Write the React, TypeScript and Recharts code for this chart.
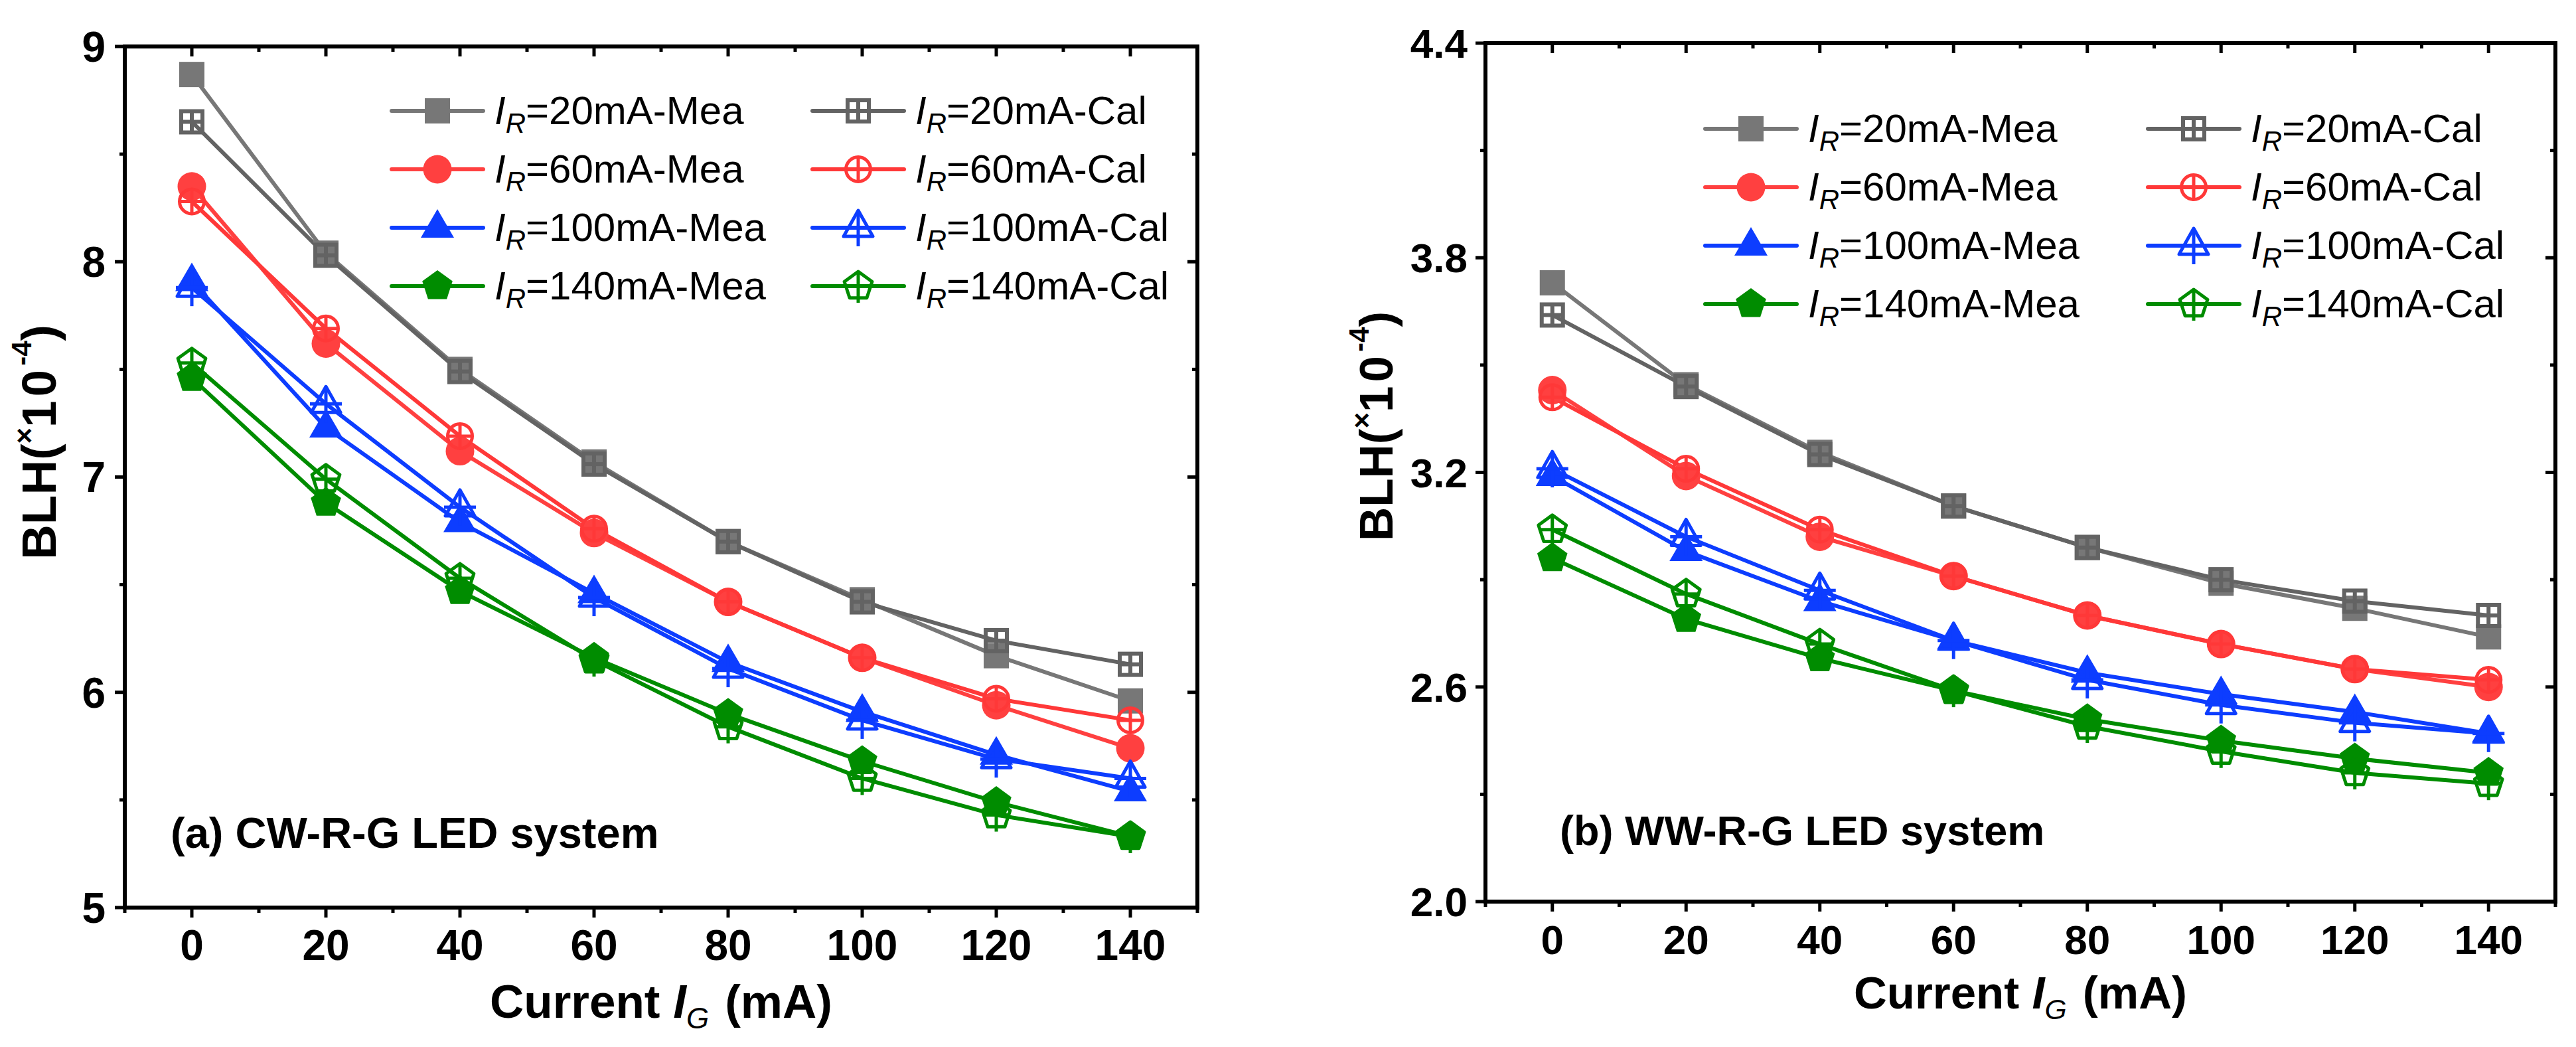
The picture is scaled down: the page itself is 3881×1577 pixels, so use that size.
import React from 'react';
import { LineChart, Line, XAxis, YAxis, Legend } from 'recharts';

// x values (current I_G, mA)
const CURRENTS = [0, 20, 40, 60, 80, 100, 120, 140];

// (a) CW-R-G LED system
const CW_MEA_20 = [8.87, 8.04, 7.5, 7.07, 6.7, 6.43, 6.17, 5.96];
const CW_CAL_20 = [8.65, 8.03, 7.49, 7.06, 6.7, 6.42, 6.24, 6.13];
const CW_MEA_60 = [8.35, 7.62, 7.12, 6.74, 6.42, 6.16, 5.94, 5.74];
const CW_CAL_60 = [8.28, 7.69, 7.19, 6.76, 6.42, 6.16, 5.97, 5.87];
const CW_MEA_100 = [7.91, 7.23, 6.79, 6.46, 6.14, 5.91, 5.71, 5.54];
const CW_CAL_100 = [7.88, 7.34, 6.86, 6.44, 6.11, 5.87, 5.69, 5.6];
const CW_MEA_140 = [7.46, 6.88, 6.47, 6.16, 5.9, 5.68, 5.49, 5.33];
const CW_CAL_140 = [7.53, 6.99, 6.53, 6.15, 5.84, 5.6, 5.43, 5.33];

// (b) WW-R-G LED system
const WW_MEA_20 = [3.73, 3.445, 3.256, 3.106, 2.99, 2.89, 2.82, 2.74];
const WW_CAL_20 = [3.64, 3.44, 3.25, 3.106, 2.99, 2.9, 2.84, 2.8];
const WW_MEA_60 = [3.43, 3.19, 3.02, 2.91, 2.8, 2.72, 2.65, 2.6];
const WW_CAL_60 = [3.41, 3.21, 3.04, 2.91, 2.8, 2.72, 2.65, 2.62];
const WW_MEA_100 = [3.19, 2.98, 2.84, 2.73, 2.64, 2.58, 2.53, 2.47];
const WW_CAL_100 = [3.21, 3.02, 2.87, 2.73, 2.62, 2.55, 2.5, 2.47];
const WW_MEA_140 = [2.96, 2.79, 2.68, 2.59, 2.51, 2.45, 2.4, 2.36];
const WW_CAL_140 = [3.04, 2.86, 2.72, 2.59, 2.49, 2.42, 2.36, 2.33];

// ticks
const X_MAJOR = [0, 20, 40, 60, 80, 100, 120, 140];
const X_ALL = [-10, 0, 10, 20, 30, 40, 50, 60, 70, 80, 90, 100, 110, 120, 130, 140, 150];
const CW_Y_MAJOR = [5, 6, 7, 8, 9];
const CW_Y_ALL = [5, 5.5, 6, 6.5, 7, 7.5, 8, 8.5, 9];
const WW_Y_MAJOR = [2.0, 2.6, 3.2, 3.8, 4.4];
const WW_Y_ALL = [2.0, 2.3, 2.6, 2.9, 3.2, 3.5, 3.8, 4.1, 4.4];

const SERIES = [
  { key: 'm20', label: '20mA-Mea', color: '#777777', shape: 'square', filled: true },
  { key: 'c20', label: '20mA-Cal', color: '#636363', shape: 'square', filled: false },
  { key: 'm60', label: '60mA-Mea', color: '#ff4040', shape: 'circle', filled: true },
  { key: 'c60', label: '60mA-Cal', color: '#ff3838', shape: 'circle', filled: false },
  { key: 'm100', label: '100mA-Mea', color: '#0d3dff', shape: 'triangle', filled: true },
  { key: 'c100', label: '100mA-Cal', color: '#0d3dff', shape: 'triangle', filled: false },
  { key: 'm140', label: '140mA-Mea', color: '#008c00', shape: 'pentagon', filled: true },
  { key: 'c140', label: '140mA-Cal', color: '#008c00', shape: 'pentagon', filled: false },
];

const buildRows = (cols: number[][]) =>
  CURRENTS.map((x, i) => {
    const row: any = { x };
    SERIES.forEach((s, j) => (row[s.key] = cols[j][i]));
    return row;
  });

const CW_DATA = buildRows([CW_MEA_20, CW_CAL_20, CW_MEA_60, CW_CAL_60, CW_MEA_100, CW_CAL_100, CW_MEA_140, CW_CAL_140]);
const WW_DATA = buildRows([WW_MEA_20, WW_CAL_20, WW_MEA_60, WW_CAL_60, WW_MEA_100, WW_CAL_100, WW_MEA_140, WW_CAL_140]);

const FONT = "'Liberation Sans', Arial, sans-serif";

const pentagon = (r: number) =>
  [0, 1, 2, 3, 4]
    .map((k) => {
      const a = -Math.PI / 2 + (k * 2 * Math.PI) / 5;
      return `${(r * Math.cos(a)).toFixed(1)},${(r * Math.sin(a)).toFixed(1)}`;
    })
    .join(' ');

const Marker = ({ cx, cy, shape, filled, color }: any) => {
  if (cx == null || cy == null) return null;
  const sw = 6;
  let body: any = null;
  if (shape === 'square') {
    body = filled ? (
      <rect x={-19} y={-19} width={38} height={38} fill={color} />
    ) : (
      <g stroke={color} strokeWidth={sw} fill="none">
        <rect x={-16} y={-16} width={32} height={32} />
        <line x1={0} y1={-16} x2={0} y2={16} />
        <line x1={-16} y1={0} x2={16} y2={0} />
      </g>
    );
  } else if (shape === 'circle') {
    body = filled ? (
      <circle r={21.5} fill={color} />
    ) : (
      <g stroke={color} strokeWidth={sw - 1} fill="none">
        <circle r={18.5} />
        <line x1={0} y1={-18.5} x2={0} y2={18.5} />
        <line x1={-18.5} y1={0} x2={18.5} y2={0} />
      </g>
    );
  } else if (shape === 'triangle') {
    body = filled ? (
      <polygon points="0,-28 25,15 -25,15" fill={color} />
    ) : (
      <g stroke={color} strokeWidth={sw - 1} fill="none" strokeLinejoin="round">
        <polygon points="0,-26 22,13 -22,13" />
        <line x1={0} y1={-26} x2={0} y2={28} />
        <line x1={-24} y1={0} x2={24} y2={0} />
      </g>
    );
  } else {
    body = filled ? (
      <polygon points={pentagon(24)} fill={color} />
    ) : (
      <g stroke={color} strokeWidth={sw - 1} fill="none" strokeLinejoin="round">
        <polygon points={pentagon(22)} />
        <line x1={0} y1={-22} x2={0} y2={25} />
        <line x1={-20} y1={0} x2={20} y2={0} />
      </g>
    );
  }
  return <g transform={`translate(${cx},${cy})`}>{body}</g>;
};

const isIn = (v: number, list: number[]) => list.some((m) => Math.abs(m - v) < 1e-6);

// ticks along x: lines go down (outward at bottom, inward at top)
const makeXTick = (fontSize: number, gap: number, withLabel: boolean) => (props: any) => {
  const { x, y, payload } = props;
  const major = isIn(payload.value, X_MAJOR);
  const len = major ? 15 : 8;
  return (
    <g>
      <line x1={x} y1={y} x2={x} y2={y + len} stroke="#000" strokeWidth={5} />
      {withLabel && major && (
        <text x={x} y={y + gap + fontSize * 0.716} textAnchor="middle" fontFamily={FONT} fontWeight="bold" fontSize={fontSize} fill="#000">
          {payload.value}
        </text>
      )}
    </g>
  );
};

// ticks along y: lines go left (outward at left, inward at right)
const makeYTick = (majors: number[], fontSize: number, gap: number, digits: number, withLabel: boolean) => (props: any) => {
  const { x, y, payload } = props;
  const major = isIn(payload.value, majors);
  const len = major ? 15 : 8;
  return (
    <g>
      <line x1={x} y1={y} x2={x - len} y2={y} stroke="#000" strokeWidth={5} />
      {withLabel && major && (
        <text x={x - gap} y={y + fontSize * 0.358} textAnchor="end" fontFamily={FONT} fontWeight="bold" fontSize={fontSize} fill="#000">
          {Number(payload.value).toFixed(digits)}
        </text>
      )}
    </g>
  );
};

const LegendBox = ({ colGap, rowGap }: { colGap: number; rowGap: number }) => (
  <div style={{ position: 'relative', width: colGap * 2, height: rowGap * 4 }}>
    {SERIES.map((s, i) => {
      const col = i % 2;
      const row = Math.floor(i / 2);
      return (
        <div
          key={s.key}
          style={{ position: 'absolute', left: col * colGap, top: row * rowGap, height: rowGap, display: 'flex', alignItems: 'center' }}
        >
          <svg width={144} height={rowGap} style={{ display: 'block' }}>
            <line x1={3} y1={rowGap / 2} x2={141} y2={rowGap / 2} stroke={s.color} strokeWidth={6} strokeLinecap="round" />
            <Marker cx={72} cy={rowGap / 2} shape={s.shape} filled={s.filled} color={s.color} />
          </svg>
          <span style={{ marginLeft: 14, fontFamily: FONT, fontSize: 60, lineHeight: 1, color: '#000', whiteSpace: 'nowrap' }}>
            <i>I</i>
            <span style={{ fontSize: '0.7em', fontStyle: 'italic', position: 'relative', top: '0.3em' }}>R</span>={s.label}
          </span>
        </div>
      );
    })}
  </div>
);

interface PanelProps {
  data: any[];
  width: number;
  margin: { top: number; right: number; bottom: number; left: number };
  yDomain: [number, number];
  yAll: number[];
  yMajor: number[];
  digits: number;
  tickFont: number;
  yGap: number;
  xGap: number;
  legendPos: { left: number; top: number; colGap: number };
  note: string;
  notePos: { x: number; y: number };
  yTitle: { x: number; y: number };
  xTitleY: number;
  titleFont: number;
}

// plot box is given by margin; axes take 1px each so the frame sits on the box edges
const Panel = (p: PanelProps) => {
  const m = { top: p.margin.top - 1, right: p.margin.right - 1, bottom: p.margin.bottom - 1, left: p.margin.left - 1 };
  const plotCx = p.margin.left + (p.width - p.margin.left - p.margin.right) / 2;
  const frame = { stroke: '#000', strokeWidth: 6, strokeLinecap: 'square' as const };
  return (
    <LineChart width={p.width} height={1577} data={p.data} margin={m}>
      <XAxis
        dataKey="x"
        type="number"
        domain={[-10, 150]}
        allowDataOverflow
        ticks={X_ALL}
        interval={0}
        tickSize={0}
        tickMargin={0}
        tickLine={false}
        height={1}
        axisLine={frame}
        tick={makeXTick(p.tickFont, p.xGap, true)}
      />
      <XAxis
        xAxisId="top"
        orientation="top"
        dataKey="x"
        type="number"
        domain={[-10, 150]}
        allowDataOverflow
        ticks={X_ALL}
        interval={0}
        tickSize={0}
        tickMargin={0}
        tickLine={false}
        height={1}
        axisLine={frame}
        tick={makeXTick(p.tickFont, p.xGap, false)}
      />
      <YAxis
        type="number"
        domain={p.yDomain}
        allowDataOverflow
        ticks={p.yAll}
        interval={0}
        tickSize={0}
        tickMargin={0}
        tickLine={false}
        width={1}
        axisLine={frame}
        tick={makeYTick(p.yMajor, p.tickFont, p.yGap, p.digits, true)}
      />
      <YAxis
        yAxisId="right"
        orientation="right"
        type="number"
        domain={p.yDomain}
        allowDataOverflow
        ticks={p.yAll}
        interval={0}
        tickSize={0}
        tickMargin={0}
        tickLine={false}
        width={1}
        axisLine={frame}
        tick={makeYTick(p.yMajor, p.tickFont, p.yGap, p.digits, false)}
      />
      {SERIES.map((s) => (
        <Line
          key={s.key}
          dataKey={s.key}
          type="linear"
          stroke={s.color}
          strokeWidth={6}
          isAnimationActive={false}
          dot={(d: any) => <Marker key={`${s.key}-${d.index}`} cx={d.cx} cy={d.cy} shape={s.shape} filled={s.filled} color={s.color} />}
          activeDot={false}
        />
      ))}
      <Legend
        layout="vertical"
        align="center"
        verticalAlign="middle"
        wrapperStyle={{ left: p.legendPos.left, top: p.legendPos.top, width: 'auto', height: 'auto' }}
        content={() => <LegendBox colGap={p.legendPos.colGap} rowGap={88} />}
      />
      <text x={p.notePos.x} y={p.notePos.y} fontFamily={FONT} fontWeight="bold" fontSize={p.titleFont - 6} fill="#000">
        {p.note}
      </text>
      <text x={plotCx} y={p.xTitleY} textAnchor="middle" fontFamily={FONT} fontWeight="bold" fontSize={p.titleFont} fill="#000">
        Current{' '}
        <tspan fontStyle="italic">I</tspan>
        <tspan fontStyle="italic" fontWeight="normal" fontSize={p.titleFont * 0.62} dy={16}>
          G
        </tspan>
        <tspan dy={-16} dx={24}>
          (mA)
        </tspan>
      </text>
      <text
        x={p.yTitle.x}
        y={p.yTitle.y}
        transform={`rotate(-90 ${p.yTitle.x} ${p.yTitle.y})`}
        textAnchor="middle"
        dominantBaseline="central"
        fontFamily={FONT}
        fontWeight="bold"
        fontSize={p.titleFont + 2}
        fill="#000"
      >
        BLH(
        <tspan fontSize={42} dy={-22}>
          ×
        </tspan>
        <tspan dy={22} letterSpacing={6}>
          10
        </tspan>
        <tspan fontSize={42} dy={-26}>
          -4
        </tspan>
        <tspan dy={26}>)</tspan>
      </text>
    </LineChart>
  );
};

export default function App() {
  return (
    <div style={{ position: 'absolute', left: 0, top: 0, width: 3881, height: 1577, background: '#fff', overflow: 'hidden' }}>
      <div style={{ position: 'absolute', left: 0, top: 0 }}>
        <Panel
          data={CW_DATA}
          width={1900}
          margin={{ top: 70, right: 96, bottom: 210, left: 188 }}
          yDomain={[5, 9]}
          yAll={CW_Y_ALL}
          yMajor={CW_Y_MAJOR}
          digits={0}
          tickFont={64}
          yGap={29}
          xGap={33}
          legendPos={{ left: 587, top: 123, colGap: 634 }}
          note="(a) CW-R-G LED system"
          notePos={{ x: 257, y: 1277 }}
          yTitle={{ x: 58, y: 666 }}
          xTitleY={1533}
          titleFont={71}
        />
      </div>
      <div style={{ position: 'absolute', left: 1900, top: 0 }}>
        <Panel
          data={WW_DATA}
          width={1981}
          margin={{ top: 65, right: 31, bottom: 219, left: 338 }}
          yDomain={[2.0, 4.4]}
          yAll={WW_Y_ALL}
          yMajor={WW_Y_MAJOR}
          digits={1}
          tickFont={62}
          yGap={27}
          xGap={35}
          legendPos={{ left: 666, top: 150, colGap: 667 }}
          note="(b) WW-R-G LED system"
          notePos={{ x: 450, y: 1273 }}
          yTitle={{ x: 173, y: 642 }}
          xTitleY={1519}
          titleFont={69}
        />
      </div>
    </div>
  );
}
